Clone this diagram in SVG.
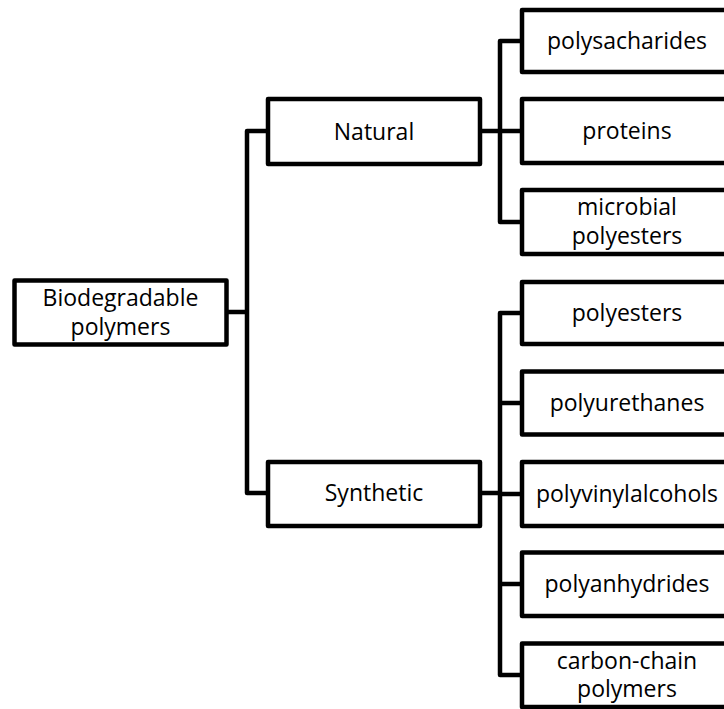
<svg xmlns="http://www.w3.org/2000/svg" width="724" height="709" viewBox="0 0 724 709">
<style>
.box{fill:#fff;stroke:#000;stroke-width:4.5;stroke-linejoin:round}
.con{fill:none;stroke:#000;stroke-width:4.5;stroke-linejoin:round}
text{font-family:"Open Sans","Liberation Sans",sans-serif;font-size:23px;fill:#000;text-anchor:middle}
</style>
<rect width="724" height="709" fill="#fff"/>
<g id="connectors">
<path class="con" d="M226.5,312 H247 M268,131 H247 V493 H268"/>
<path class="con" d="M480,131 H500 M522,41 H500 V222 H522 M500,131 H522"/>
<path class="con" d="M480,493 H500 M522,313 H500 V675 H522 M500,403 H522 M500,494 H522 M500,584 H522"/>
</g>
<g id="root"><rect class="box" x="14.5" y="280.5" width="212" height="64"/><text x="120.5" y="306">Biodegradable</text><text x="120.5" y="335">polymers</text></g>
<g id="natural"><rect class="box" x="268" y="99" width="212" height="65"/><text x="374" y="139.5">Natural</text></g>
<g id="synthetic"><rect class="box" x="268" y="462" width="212" height="64"/><text x="374" y="501">Synthetic</text></g>
<g id="polysacharides"><rect class="box" x="522" y="10" width="210" height="62"/><text x="627" y="49">polysacharides</text></g>
<g id="proteins"><rect class="box" x="522" y="99" width="210" height="64"/><text x="627" y="139">proteins</text></g>
<g id="microbial"><rect class="box" x="522" y="190" width="210" height="64"/><text x="627" y="215">microbial</text><text x="627" y="244">polyesters</text></g>
<g id="polyesters"><rect class="box" x="522" y="282" width="210" height="62"/><text x="627" y="321">polyesters</text></g>
<g id="polyurethanes"><rect class="box" x="522" y="371.5" width="210" height="63"/><text x="627" y="411">polyurethanes</text></g>
<g id="polyvinylalcohols"><rect class="box" x="522" y="462" width="210" height="64"/><text x="627" y="502">polyvinylalcohols</text></g>
<g id="polyanhydrides"><rect class="box" x="522" y="552.5" width="210" height="63.5"/><text x="627" y="592">polyanhydrides</text></g>
<g id="carbonchain"><rect class="box" x="522" y="643.5" width="210" height="63.5"/><text x="627" y="668.5">carbon-chain</text><text x="627" y="697">polymers</text></g>
</svg>
